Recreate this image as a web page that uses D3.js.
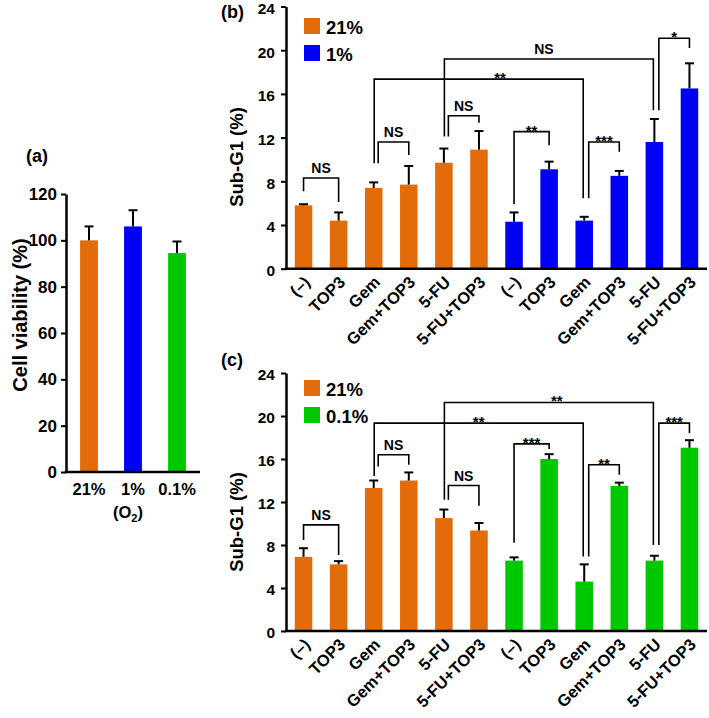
<!DOCTYPE html>
<html><head><meta charset="utf-8">
<script src="https://cdn.jsdelivr.net/npm/d3@7"></script>
<style>body{margin:0;background:#fff}</style>
</head><body><svg id="chart" width="709" height="718"></svg>
<script>
// ---------- DATA ----------
const o2Levels = ["21%", "1%", "0.1%"];
const viability = [100, 106, 94.5];
const viabilityErr = [6, 7, 5];
const viabilityTicks = [0, 20, 40, 60, 80, 100, 120];

const treatments = ["(–)", "TOP3", "Gem", "Gem+TOP3", "5-FU", "5-FU+TOP3"];
const subG1Ticks = [0, 4, 8, 12, 16, 20, 24];

const bLegend = ["21%", "1%"];
const bNormoxia = [5.8, 4.4, 7.4, 7.7, 9.7, 10.9];
const bNormoxiaErr = [0.1, 0.75, 0.5, 1.7, 1.3, 1.7];
const bHypoxia1 = [4.3, 9.1, 4.4, 8.5, 11.6, 16.5];
const bHypoxia1Err = [0.85, 0.7, 0.35, 0.45, 2.1, 2.3];

const cLegend = ["21%", "0.1%"];
const cNormoxia = [6.9, 6.2, 13.3, 14.0, 10.5, 9.35];
const cNormoxiaErr = [0.8, 0.3, 0.7, 0.75, 0.8, 0.7];
const cHypoxia01 = [6.55, 16.0, 4.6, 13.5, 6.55, 17.05];
const cHypoxia01Err = [0.3, 0.45, 1.6, 0.3, 0.45, 0.7];

// brackets: [fromBar, toBar, top value, left leg end, right leg end, label, label centre (bar index) or null]
const bBrackets = [
  [0, 1, 8.3, 7.1, 6.1, "NS", null],
  [2, 3, 11.6, 9.65, 10.4, "NS", null],
  [2, 8, 17.35, 9.65, 6.45, "**", 5.6],
  [4, 10, 19.2, 12.1, 14.5, "NS", 6.85],
  [4, 5, 14.0, 12.1, 13.35, "NS", null],
  [6, 7, 12.55, 5.9, 11.3, "**", null],
  [8, 9, 11.6, 6.45, 10.7, "***", null],
  [10, 11, 21.1, 14.5, 20.2, "*", null]
];
const cBrackets = [
  [0, 1, 9.87, 8.47, 7.08, "NS", null],
  [2, 3, 16.39, 15.3, 15.46, "NS", null],
  [2, 8, 19.34, 14.43, 6.92, "**", null],
  [4, 10, 21.26, 12.2, 8.0, "**", 7.22],
  [4, 5, 13.53, 12.2, 11.64, "NS", null],
  [6, 7, 17.41, 8.22, 16.92, "***", null],
  [8, 9, 15.46, 6.92, 14.53, "**", null],
  [10, 11, 19.34, 8.0, 18.4, "***", null]
];

// ---------- STYLE ----------
const FONT = "Arial, 'Liberation Sans', Helvetica, sans-serif";
const ORANGE = "#E36C0A", BLUE = "#0000F5", GREEN = "#00C800";
const svg = d3.select("#chart");

function txt(g, x, y, s, size, anchor) {
  return g.append("text").attr("x", x).attr("y", y).text(s)
    .attr("font-family", FONT).attr("font-weight", "bold")
    .attr("font-size", size).attr("text-anchor", anchor || "start").attr("fill", "#000");
}
function styleAxis(g, size) {
  g.select(".domain").attr("stroke", "#000").attr("stroke-width", 2.5);
  g.selectAll(".tick line").attr("stroke", "#000").attr("stroke-width", 2);
  g.selectAll(".tick text").attr("font-family", FONT).attr("font-weight", "bold")
    .attr("font-size", size).attr("fill", "#000");
}
function drawBars(g, x, y, keys, vals, errs, colors) {
  const bw = x.bandwidth();
  keys.forEach((k, i) => {
    const cx = x(k) + bw / 2;
    g.append("rect").attr("x", x(k)).attr("y", y(vals[i])).attr("width", bw)
      .attr("height", y(0) - y(vals[i])).attr("fill", colors[i]);
    const yt = y(vals[i] + errs[i]);
    g.append("line").attr("x1", cx).attr("x2", cx).attr("y1", y(vals[i])).attr("y2", yt)
      .attr("stroke", "#000").attr("stroke-width", 2);
    g.append("line").attr("x1", cx - 4.5).attr("x2", cx + 4.5).attr("y1", yt).attr("y2", yt)
      .attr("stroke", "#000").attr("stroke-width", 2);
  });
}

// ---------- PANEL (a) ----------
(function () {
  const g = svg.append("g");
  const x = d3.scaleBand().domain(o2Levels).range([66, 200]).paddingInner(0.595).paddingOuter(0.32);
  const y = d3.scaleLinear().domain([0, 120]).range([472, 194]);
  drawBars(g, x, y, o2Levels, viability, viabilityErr, [ORANGE, BLUE, GREEN]);
  const ya = g.append("g").attr("transform", "translate(66,0)")
    .call(d3.axisLeft(y).tickValues(viabilityTicks).tickSize(5).tickSizeOuter(0).tickPadding(4));
  styleAxis(ya, 17);
  const xa = g.append("g").attr("transform", `translate(0,${y(0)})`)
    .call(d3.axisBottom(x).tickSize(0).tickSizeOuter(0).tickPadding(11));
  styleAxis(xa, 16.5);
  xa.select(".domain").attr("d", `M64.75,0H200`);
  const t = txt(g, 128, 518, "(O", 16.5, "middle");
  t.append("tspan").text("2").attr("font-size", 11).attr("dy", 4);
  t.append("tspan").text(")").attr("dy", -4);
  txt(g, 0, 0, "Cell viability (%)", 20, "middle").attr("transform", "translate(27,315) rotate(-90)");
  txt(g, 26, 162, "(a)", 18);
})();

// ---------- PANELS (b), (c) ----------
function subPanel(cfg) {
  const g = svg.append("g");
  const idx = d3.range(12);
  const vals = cfg.a.concat(cfg.b), errs = cfg.ae.concat(cfg.be);
  const colors = idx.map(i => i < 6 ? ORANGE : cfg.color);
  const x = d3.scaleBand().domain(idx).range([286, 707]).paddingInner(0.5).paddingOuter(0.25);
  const y = d3.scaleLinear().domain([0, 24]).range(cfg.yr);
  const bw = x.bandwidth();
  drawBars(g, x, y, idx, vals, errs, colors);

  const ya = g.append("g").attr("transform", "translate(286,0)")
    .call(d3.axisLeft(y).tickValues(subG1Ticks).tickSize(5).tickSizeOuter(0).tickPadding(6));
  styleAxis(ya, 15.5);
  ya.selectAll(".tick text").attr("dy", "0.45em");
  const xa = g.append("g").attr("transform", `translate(0,${y(0)})`)
    .call(d3.axisBottom(x).tickSize(0).tickSizeOuter(0).tickFormat(i => treatments[i % 6]));
  styleAxis(xa, 16.5);
  xa.select(".domain").attr("d", `M284.75,0H707`);
  xa.selectAll(".tick text").attr("text-anchor", "end").attr("x", 0).attr("y", 5).attr("dy", null)
    .attr("transform", "translate(4,11) rotate(-45)");

  // brackets
  const uses = {};
  cfg.brackets.forEach(b => { uses[b[0]] = (uses[b[0]] || 0) + 1; uses[b[1]] = (uses[b[1]] || 0) + 1; });
  cfg.brackets.forEach(b => {
    const [f, t, top, le, re, lab, lp] = b;
    const adj = (t - f) === 1;
    let xl = x(f) + bw / 2, xr = x(t) + bw / 2;
    if (adj && uses[f] > 1) xl += 4.5;
    if (!adj) { xl += 0.5; xr -= 1; }
    g.append("path").attr("d", `M${xl},${y(le)}V${y(top)}H${xr}V${y(re)}`)
      .attr("fill", "none").attr("stroke", "#000").attr("stroke-width", 1.6);
    const lx = lp == null ? (xl + xr) / 2 : x(0) + bw / 2 + lp * x.step();
    if (lab === "NS") txt(g, lx, y(top) - 5, lab, 14, "middle");
    else txt(g, lx, y(top) + 4, lab, 15, "middle");
  });

  // legend
  cfg.legend.forEach((l, i) => {
    g.append("rect").attr("x", 304).attr("y", cfg.legY + i * 27).attr("width", 16).attr("height", 16)
      .attr("fill", i === 0 ? ORANGE : cfg.color);
    txt(g, 326, cfg.legY + 15.5 + i * 27, l, 18.5);
  });
  txt(g, 0, 0, "Sub-G1 (%)", 18.5, "middle").attr("transform", `translate(243,${cfg.ylabY}) rotate(-90)`);
  txt(g, 221, cfg.tagY, cfg.tag, 18);
}

subPanel({ a: bNormoxia, ae: bNormoxiaErr, b: bHypoxia1, be: bHypoxia1Err, color: BLUE,
  yr: [268.7, 6.5], brackets: bBrackets, legend: bLegend, legY: 18, ylabY: 157, tag: "(b)", tagY: 18 });
subPanel({ a: cNormoxia, ae: cNormoxiaErr, b: cHypoxia01, be: cHypoxia01Err, color: GREEN,
  yr: [631, 373], brackets: cBrackets, legend: cLegend, legY: 380, ylabY: 522, tag: "(c)", tagY: 366 });
</script>
</body></html>
